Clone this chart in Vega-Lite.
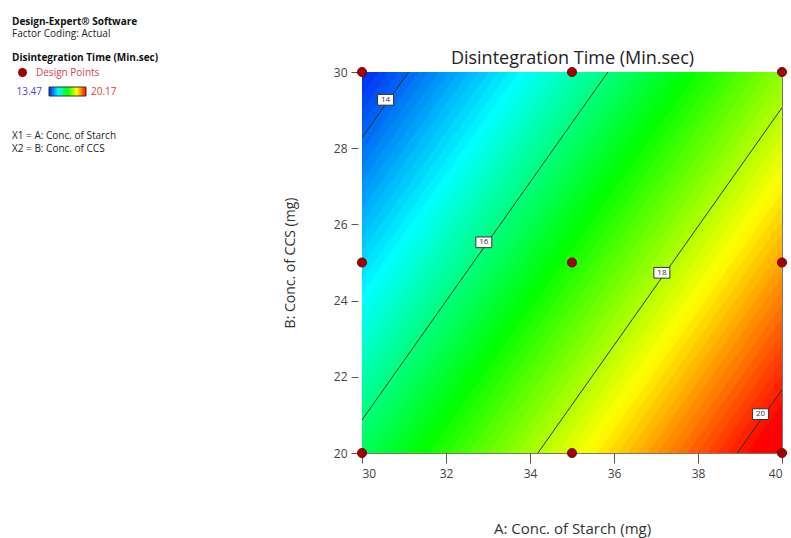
{
  "$schema": "https://vega.github.io/schema/vega-lite/v6.json",
  "width": 420,
  "height": 381,
  "autosize": {"type": "none"},
  "padding": {"left": 362, "top": 72, "right": 9, "bottom": 85},
  "background": "white",
  "title": {
    "text": "Design-Expert® Software",
    "subtitle": ["Factor Coding: Actual", "\u200b", "\u200b", "\u200b", "\u200b", "\u200b", "\u200b", "\u200b", "X1 = A: Conc. of Starch", "X2 = B: Conc. of CCS"],
    "anchor": "start",
    "frame": "group",
    "orient": "top",
    "dx": -350,
    "offset": -105,
    "font": "Open Sans",
    "fontSize": 10,
    "fontWeight": "bold",
    "color": "#111111",
    "subtitleFont": "Open Sans",
    "subtitleFontSize": 10,
    "subtitleColor": "#222222",
    "subtitleLineHeight": 12.8,
    "subtitlePadding": 2
  },
  "datasets": {
    "bands": [
      {"v":13.55,"a":30,"hi":30.116,"lo":29.376},{"v":13.55,"a":40,"hi":45.714,"lo":44.974},
      {"v":13.65,"a":30,"hi":29.746,"lo":29.006},{"v":13.65,"a":40,"hi":45.344,"lo":44.604},
      {"v":13.75,"a":30,"hi":29.376,"lo":28.636},{"v":13.75,"a":40,"hi":44.974,"lo":44.234},
      {"v":13.85,"a":30,"hi":29.006,"lo":28.266},{"v":13.85,"a":40,"hi":44.604,"lo":43.864},
      {"v":13.95,"a":30,"hi":28.636,"lo":27.896},{"v":13.95,"a":40,"hi":44.234,"lo":43.494},
      {"v":14.05,"a":30,"hi":28.266,"lo":27.526},{"v":14.05,"a":40,"hi":43.864,"lo":43.124},
      {"v":14.15,"a":30,"hi":27.896,"lo":27.156},{"v":14.15,"a":40,"hi":43.494,"lo":42.754},
      {"v":14.25,"a":30,"hi":27.526,"lo":26.787},{"v":14.25,"a":40,"hi":43.124,"lo":42.384},
      {"v":14.35,"a":30,"hi":27.156,"lo":26.417},{"v":14.35,"a":40,"hi":42.754,"lo":42.014},
      {"v":14.45,"a":30,"hi":26.787,"lo":26.047},{"v":14.45,"a":40,"hi":42.384,"lo":41.644},
      {"v":14.55,"a":30,"hi":26.417,"lo":25.677},{"v":14.55,"a":40,"hi":42.014,"lo":41.274},
      {"v":14.65,"a":30,"hi":26.047,"lo":25.307},{"v":14.65,"a":40,"hi":41.644,"lo":40.904},
      {"v":14.75,"a":30,"hi":25.677,"lo":24.937},{"v":14.75,"a":40,"hi":41.274,"lo":40.534},
      {"v":14.85,"a":30,"hi":25.307,"lo":24.567},{"v":14.85,"a":40,"hi":40.904,"lo":40.164},
      {"v":14.95,"a":30,"hi":24.937,"lo":24.197},{"v":14.95,"a":40,"hi":40.534,"lo":39.794},
      {"v":15.05,"a":30,"hi":24.567,"lo":23.827},{"v":15.05,"a":40,"hi":40.164,"lo":39.424},
      {"v":15.15,"a":30,"hi":24.197,"lo":23.457},{"v":15.15,"a":40,"hi":39.794,"lo":39.054},
      {"v":15.25,"a":30,"hi":23.827,"lo":23.087},{"v":15.25,"a":40,"hi":39.424,"lo":38.684},
      {"v":15.35,"a":30,"hi":23.457,"lo":22.717},{"v":15.35,"a":40,"hi":39.054,"lo":38.314},
      {"v":15.45,"a":30,"hi":23.087,"lo":22.347},{"v":15.45,"a":40,"hi":38.684,"lo":37.944},
      {"v":15.55,"a":30,"hi":22.717,"lo":21.977},{"v":15.55,"a":40,"hi":38.314,"lo":37.574},
      {"v":15.65,"a":30,"hi":22.347,"lo":21.607},{"v":15.65,"a":40,"hi":37.944,"lo":37.204},
      {"v":15.75,"a":30,"hi":21.977,"lo":21.237},{"v":15.75,"a":40,"hi":37.574,"lo":36.834},
      {"v":15.85,"a":30,"hi":21.607,"lo":20.867},{"v":15.85,"a":40,"hi":37.204,"lo":36.465},
      {"v":15.95,"a":30,"hi":21.237,"lo":20.497},{"v":15.95,"a":40,"hi":36.834,"lo":36.095},
      {"v":16.05,"a":30,"hi":20.867,"lo":20.127},{"v":16.05,"a":40,"hi":36.465,"lo":35.725},
      {"v":16.15,"a":30,"hi":20.497,"lo":19.757},{"v":16.15,"a":40,"hi":36.095,"lo":35.355},
      {"v":16.25,"a":30,"hi":20.127,"lo":19.387},{"v":16.25,"a":40,"hi":35.725,"lo":34.985},
      {"v":16.35,"a":30,"hi":19.757,"lo":19.017},{"v":16.35,"a":40,"hi":35.355,"lo":34.615},
      {"v":16.45,"a":30,"hi":19.387,"lo":18.647},{"v":16.45,"a":40,"hi":34.985,"lo":34.245},
      {"v":16.55,"a":30,"hi":19.017,"lo":18.277},{"v":16.55,"a":40,"hi":34.615,"lo":33.875},
      {"v":16.65,"a":30,"hi":18.647,"lo":17.907},{"v":16.65,"a":40,"hi":34.245,"lo":33.505},
      {"v":16.75,"a":30,"hi":18.277,"lo":17.538},{"v":16.75,"a":40,"hi":33.875,"lo":33.135},
      {"v":16.85,"a":30,"hi":17.907,"lo":17.168},{"v":16.85,"a":40,"hi":33.505,"lo":32.765},
      {"v":16.95,"a":30,"hi":17.538,"lo":16.798},{"v":16.95,"a":40,"hi":33.135,"lo":32.395},
      {"v":17.05,"a":30,"hi":17.168,"lo":16.428},{"v":17.05,"a":40,"hi":32.765,"lo":32.025},
      {"v":17.15,"a":30,"hi":16.798,"lo":16.058},{"v":17.15,"a":40,"hi":32.395,"lo":31.655},
      {"v":17.25,"a":30,"hi":16.428,"lo":15.688},{"v":17.25,"a":40,"hi":32.025,"lo":31.285},
      {"v":17.35,"a":30,"hi":16.058,"lo":15.318},{"v":17.35,"a":40,"hi":31.655,"lo":30.915},
      {"v":17.45,"a":30,"hi":15.688,"lo":14.948},{"v":17.45,"a":40,"hi":31.285,"lo":30.545},
      {"v":17.55,"a":30,"hi":15.318,"lo":14.578},{"v":17.55,"a":40,"hi":30.915,"lo":30.175},
      {"v":17.65,"a":30,"hi":14.948,"lo":14.208},{"v":17.65,"a":40,"hi":30.545,"lo":29.805},
      {"v":17.75,"a":30,"hi":14.578,"lo":13.838},{"v":17.75,"a":40,"hi":30.175,"lo":29.435},
      {"v":17.85,"a":30,"hi":14.208,"lo":13.468},{"v":17.85,"a":40,"hi":29.805,"lo":29.065},
      {"v":17.95,"a":30,"hi":13.838,"lo":13.098},{"v":17.95,"a":40,"hi":29.435,"lo":28.695},
      {"v":18.05,"a":30,"hi":13.468,"lo":12.728},{"v":18.05,"a":40,"hi":29.065,"lo":28.325},
      {"v":18.15,"a":30,"hi":13.098,"lo":12.358},{"v":18.15,"a":40,"hi":28.695,"lo":27.955},
      {"v":18.25,"a":30,"hi":12.728,"lo":11.988},{"v":18.25,"a":40,"hi":28.325,"lo":27.585},
      {"v":18.35,"a":30,"hi":12.358,"lo":11.618},{"v":18.35,"a":40,"hi":27.955,"lo":27.216},
      {"v":18.45,"a":30,"hi":11.988,"lo":11.248},{"v":18.45,"a":40,"hi":27.585,"lo":26.846},
      {"v":18.55,"a":30,"hi":11.618,"lo":10.878},{"v":18.55,"a":40,"hi":27.216,"lo":26.476},
      {"v":18.65,"a":30,"hi":11.248,"lo":10.508},{"v":18.65,"a":40,"hi":26.846,"lo":26.106},
      {"v":18.75,"a":30,"hi":10.878,"lo":10.138},{"v":18.75,"a":40,"hi":26.476,"lo":25.736},
      {"v":18.85,"a":30,"hi":10.508,"lo":9.768},{"v":18.85,"a":40,"hi":26.106,"lo":25.366},
      {"v":18.95,"a":30,"hi":10.138,"lo":9.398},{"v":18.95,"a":40,"hi":25.736,"lo":24.996},
      {"v":19.05,"a":30,"hi":9.768,"lo":9.028},{"v":19.05,"a":40,"hi":25.366,"lo":24.626},
      {"v":19.15,"a":30,"hi":9.398,"lo":8.658},{"v":19.15,"a":40,"hi":24.996,"lo":24.256},
      {"v":19.25,"a":30,"hi":9.028,"lo":8.289},{"v":19.25,"a":40,"hi":24.626,"lo":23.886},
      {"v":19.35,"a":30,"hi":8.658,"lo":7.919},{"v":19.35,"a":40,"hi":24.256,"lo":23.516},
      {"v":19.45,"a":30,"hi":8.289,"lo":7.549},{"v":19.45,"a":40,"hi":23.886,"lo":23.146},
      {"v":19.55,"a":30,"hi":7.919,"lo":7.179},{"v":19.55,"a":40,"hi":23.516,"lo":22.776},
      {"v":19.65,"a":30,"hi":7.549,"lo":6.809},{"v":19.65,"a":40,"hi":23.146,"lo":22.406},
      {"v":19.75,"a":30,"hi":7.179,"lo":6.439},{"v":19.75,"a":40,"hi":22.776,"lo":22.036},
      {"v":19.85,"a":30,"hi":6.809,"lo":6.069},{"v":19.85,"a":40,"hi":22.406,"lo":21.666},
      {"v":19.95,"a":30,"hi":6.439,"lo":5.699},{"v":19.95,"a":40,"hi":22.036,"lo":21.296},
      {"v":20.05,"a":30,"hi":6.069,"lo":5.329},{"v":20.05,"a":40,"hi":21.666,"lo":20.926},
      {"v":20.15,"a":30,"hi":5.699,"lo":4.959},{"v":20.15,"a":40,"hi":21.296,"lo":20.556},
      {"v":20.25,"a":30,"hi":5.329,"lo":4.589},{"v":20.25,"a":40,"hi":20.926,"lo":20.186},
      {"v":20.35,"a":30,"hi":4.959,"lo":4.219},{"v":20.35,"a":40,"hi":20.556,"lo":19.816},
      {"v":20.45,"a":30,"hi":4.589,"lo":3.849},{"v":20.45,"a":40,"hi":20.186,"lo":19.446}
    ],
    "contours": [
      {"level":14,"a":30,"b":28.267},{"level":14,"a":40,"b":43.864},
      {"level":16,"a":30,"b":20.867},{"level":16,"a":40,"b":36.465},
      {"level":18,"a":30,"b":13.468},{"level":18,"a":40,"b":29.065},
      {"level":20,"a":30,"b":6.069},{"level":20,"a":40,"b":21.666}
    ],
    "labels": [
      {"level":14,"a":30.56,"b":29.27},
      {"level":16,"a":32.90,"b":25.53},
      {"level":18,"a":37.14,"b":24.73},
      {"level":20,"a":39.49,"b":21.02}
    ],
    "points": [
      {"a":30,"b":20},{"a":30,"b":25},{"a":30,"b":30},
      {"a":35,"b":20},{"a":35,"b":25},{"a":35,"b":30},
      {"a":40,"b":20},{"a":40,"b":25},{"a":40,"b":30}
    ]
  },
  "layer": [
    {
      "data": {"name": "bands"},
      "mark": {"type": "area", "clip": true, "interpolate": "linear", "opacity": 1},
      "encoding": {
        "x": {
          "field": "a", "type": "quantitative",
          "scale": {"domain": [30, 40], "nice": false, "zero": false},
          "axis": {
            "orient": "bottom",
            "title": "A: Conc. of Starch (mg)",
            "values": [30, 32, 34, 36, 38, 40],
            "tickSize": 10,
            "labelPadding": 5,
            "titlePadding": 42,
            "titleFontSize": 15
          }
        },
        "y": {
          "field": "hi", "type": "quantitative", "stack": null,
          "scale": {"domain": [20, 30], "nice": false, "zero": false},
          "axis": {
            "title": "B: Conc. of CCS (mg)",
            "values": [20, 22, 24, 26, 28, 30],
            "offset": 4,
            "tickSize": 7,
            "labelPadding": 4,
            "titlePadding": 36,
            "titleFontSize": 14
          }
        },
        "y2": {"field": "lo"},
        "detail": {"field": "v", "type": "nominal"},
        "color": {
          "field": "v", "type": "quantitative",
          "scale": {
            "domain": [13.47, 15.145, 16.82, 18.495, 20.17],
            "range": ["#0020f0", "#00ffff", "#00ff00", "#ffff00", "#ff0000"],
            "clamp": true,
            "interpolate": "rgb"
          },
          "legend": {
            "title": null,
            "orient": "none",
            "direction": "horizontal",
            "legendX": -313,
            "legendY": 15,
            "padding": 0,
            "gradientLength": 37,
            "gradientThickness": 9,
            "gradientStrokeColor": "#333333",
            "gradientStrokeWidth": 1,
            "values": [13.47, 20.17],
            "format": ".2f",
            "labelFontSize": 10,
            "labelFont": "Open Sans",
            "labelOverlap": false,
            "encoding": {
              "labels": {
                "fill": {"value": {"expr": "datum.value < 17 ? '#4646dc' : '#e04040'"}},
                "align": {"value": {"expr": "datum.value < 17 ? 'right' : 'left'"}},
                "dx": {"value": {"expr": "datum.value < 17 ? -7 : 5"}},
                "baseline": {"value": "middle"},
                "y": {"value": 4.5}
              }
            }
          }
        }
      }
    },
    {
      "data": {"name": "contours"},
      "mark": {"type": "line", "clip": true, "color": "#1f3a1f", "strokeWidth": 1},
      "encoding": {
        "x": {"field": "a", "type": "quantitative", "axis": null},
        "y": {"field": "b", "type": "quantitative"},
        "detail": {"field": "level", "type": "nominal"}
      }
    },
    {
      "data": {"name": "labels"},
      "mark": {"type": "point", "filled": true, "color": "white", "stroke": "#333333", "strokeWidth": 1, "opacity": 1, "size": 256, "shape": "M-1,-0.67H1V0.67H-1Z"},
      "encoding": {
        "x": {"field": "a", "type": "quantitative", "axis": null},
        "y": {"field": "b", "type": "quantitative"}
      }
    },
    {
      "data": {"name": "labels"},
      "mark": {"type": "text", "fontSize": 8, "color": "#333333", "font": "Open Sans", "baseline": "middle", "align": "center"},
      "encoding": {
        "x": {"field": "a", "type": "quantitative", "axis": null},
        "y": {"field": "b", "type": "quantitative"},
        "text": {"field": "level", "type": "nominal"}
      }
    },
    {
      "data": {"name": "points"},
      "mark": {"type": "point", "filled": true, "color": "#a30000", "stroke": "#5a0000", "strokeWidth": 0.8, "opacity": 1, "size": 85},
      "encoding": {
        "x": {
          "field": "a", "type": "quantitative",
          "axis": {
            "orient": "top",
            "title": "Disintegration Time (Min.sec)",
            "labels": false,
            "ticks": false,
            "domain": false,
            "grid": false,
            "titleFontSize": 18,
            "titlePadding": 5,
            "titleColor": "#222222"
          }
        },
        "y": {"field": "b", "type": "quantitative"},
        "shape": {
          "datum": "Design Points",
          "scale": {"range": ["circle"]},
          "legend": {
            "title": "Disintegration Time (Min.sec)",
            "orient": "none",
            "legendX": -350,
            "legendY": -19,
            "padding": 0,
            "titleFont": "Open Sans",
            "titleFontSize": 10,
            "titleFontWeight": "bold",
            "titleColor": "#111111",
            "titlePadding": 4,
            "labelFont": "Open Sans",
            "labelFontSize": 10,
            "labelColor": "#d8404e",
            "symbolSize": 80,
            "symbolFillColor": "#a30000",
            "symbolStrokeColor": "#5a0000",
            "symbolOffset": 5,
            "labelOffset": 8
          }
        }
      }
    }
  ],
  "config": {
    "font": "Open Sans",
    "view": {"stroke": "#777777", "strokeWidth": 1},
    "axis": {
      "labelFont": "Open Sans",
      "titleFont": "Open Sans",
      "labelFontSize": 12,
      "labelColor": "#444444",
      "titleColor": "#333333",
      "titleFontWeight": "normal",
      "tickColor": "#555555",
      "domain": false,
      "grid": false
    }
  }
}
